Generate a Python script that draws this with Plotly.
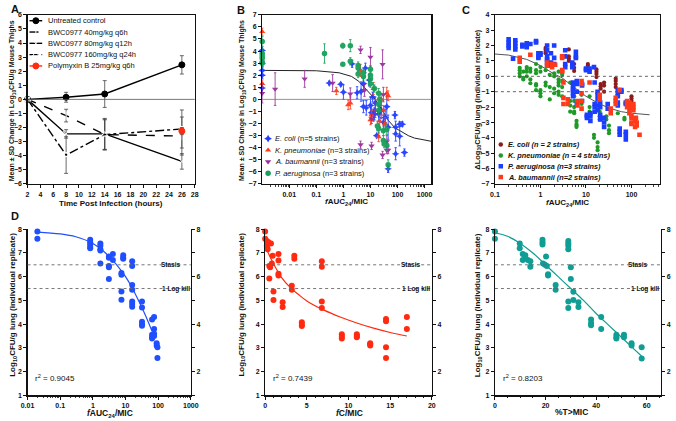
import plotly.graph_objects as go

W, H = 676, 421
FONT = "Liberation Sans, Arial, sans-serif"

# ---------------- Panel A data ----------------
A_time = [2, 8, 14, 26]
A_ctrl = [0, 0.15, 0.38, 2.45]
A_ctrl_sd = [0, 0.35, 0.95, 0.65]
A_40 = [0, -1.15, -2.5, -2.6]
A_40_sd = [0, 0.45, 1.1, 1.35]
A_80 = [0, -2.45, -2.45, -4.4]
A_80_sd = [0, 0.3, 1.1, 0.55]
A_160 = [0, -3.95, -2.5, -2.1]
A_160_sd = [0, 1.3, 1.05, 1.35]
A_pmb_t = [26]
A_pmb = [-2.25]
A_pmb_sd = [0.25]
A_labels = ["Untreated control", "BWC0977 40mg/kg q6h", "BWC0977 80mg/kg q12h",
            "BWC0977 160mg/kg q24h", "Polymyxin B 25mg/kg q6h"]

# ---------------- Panel B data ----------------
B_ecoli_x = [0.001, 0.001, 0.001, 0.001, 0.001, 0.3, 0.8, 1.0, 2.1, 3.2, 4.5, 5.5, 6.5, 5.5, 7.0,
             9.0, 10, 11, 12, 13, 14, 15, 17, 20, 22, 25, 30, 35, 40, 45, 45, 80, 85, 85, 85,
             120, 150, 120, 180]
B_ecoli_y = [4.05, 3.0, 2.4, 2.0, 0.95, 1.35, 1.25, 0.6, 2.95, 0.55, 0.65, 1.3, 2.6, -0.6, -0.7,
             1.6, -0.5, -1.1, 0.2, -1.3, -1.2, -0.3, -3.0, -1.2, -1.0, -0.9, -1.9, -1.5, -0.6, -2.3,
             -5.75, -1.3, -2.3, -2.85, -4.5, -2.05, -2.05, -3.05, -4.4]
B_ecoli_sd = [0.3, 0.3, 0.3, 0.3, 0.4, 0.15, 0.15, 0.6, 0.3, 0.5, 0.8, 0.5, 0.4, 0.5, 0.6,
              0.5, 0.7, 0.6, 0.4, 0.5, 0.5, 0.5, 0.1, 0.6, 0.5, 0.7, 0.6, 0.7, 0.9, 1.0,
              0.3, 0.3, 0.5, 0.6, 0.5, 0.2, 0.2, 0.8, 0.3]
B_kpn_x = [0.001, 0.001, 0.55, 1.5, 1.8, 4.3, 10, 11, 13, 20, 22, 25, 30, 35, 40, 45]
B_kpn_y = [5.6, 1.3, 0.7, -0.45, -0.3, 2.4, -1.7, -1.3, 0.9, -3.1, -1.8, 0.0, -0.9, -2.0, 0.5, 0.3]
B_kpn_sd = [0.3, 0.3, 0.3, 0.4, 0.5, 0.5, 0.4, 0.4, 0.5, 0.4, 0.5, 0.5, 0.4, 0.5, 0.5, 0.4]
B_aba_x = [0.001, 0.003, 0.037, 0.4, 1.8, 4.3, 4.3, 6, 10, 11, 11, 15, 28, 28, 30, 40, 40, 45]
B_aba_y = [0.5, 0.85, 1.7, 1.35, 0.45, 4.1, -3.75, 0.75, 3.5, -3.85, -1.6, -0.9, 2.9, -4.6, 0.4,
           -3.5, -4.2, -4.2]
B_aba_sd = [0.8, 1.35, 0.7, 0.7, 0.5, 0.3, 0.3, 0.5, 0.8, 0.3, 0.4, 0.6, 1.2, 0.3, 0.6, 0.5, 0.3, 0.3]
B_pae_x = [0.001, 0.001, 0.001, 0.001, 0.001, 0.001, 0.2, 0.95, 0.95, 1.8, 1.8, 3.5, 3.5, 3.5,
           5.5, 5.5, 10, 10, 10, 10, 14, 18, 20, 20, 20, 22, 20, 30, 30, 32, 40, 40, 45]
B_pae_y = [4.8, 3.8, 3.6, 3.4, 3.1, 3.0, 3.8, 4.45, 2.9, 4.45, 3.15, 2.8, 2.6, 2.1,
           2.2, 1.9, 2.5, 2.0, 1.7, 1.3, 0.9, -2.2, -2.4, 0.5, -0.9, 0.0, -0.4, -2.6, -3.4, -3.7,
           -3.8, -2.5, -5.4]
B_pae_sd = [0.4, 0.4, 0.4, 0.4, 0.4, 0.4, 0.8, 0.2, 0.1, 0.5, 0.3, 0.3, 0.3, 0.3,
            0.3, 0.3, 0.3, 0.3, 0.3, 0.3, 0.3, 0.4, 0.4, 0.4, 0.4, 0.3, 0.5, 0.4, 0.4, 0.3,
            0.4, 0.4, 0.4]
B_fit_x = [0.001, 0.01, 0.1, 0.7, 2, 3.7, 6, 10, 15, 25, 46, 80, 120, 250, 420, 1000, 1780]
B_fit_y = [2.4, 2.4, 2.37, 2.2, 1.9, 1.5, 1.0, 0.45, 0.0, -0.75, -1.75, -2.35, -2.6, -3.0, -3.2,
           -3.4, -3.47]
B_labels = ["<i>E. coli</i> (n=5 strains)", "<i>K. pneumoniae</i> (n=3 strains)",
            "<i>A. baumannii</i> (n=3 strains)", "<i>P. aeruginosa</i> (n=3 strains)"]

# ---------------- Panel C data (x, replicate values) ----------------
C_ecoli = [(1.3, [1.85, 1.75, 1.6, 1.5]), (4.2, [1.75, 1.3, 1.15, 1.0]), (5.5, [0.8, 0.55, 0.35]),
           (11, [0.8, 0.7, 0.45]), (17, [0.45, 0.3, 0.15, -0.05]), (21, [-0.5, -0.65, -0.8]),
           (25, [-0.4, -0.6, -1.0]), (45, [-0.15, -0.3, -0.5, -0.7]), (100, [-1.3, -1.45, -1.6])]
C_kpn = [(0.35, [0.55, 0.4, 0.2, 0.0]), (0.42, [0.3, -0.1, -0.2]), (0.5, [0.6, 0.5, 0.3, 0.0]),
         (0.6, [0.5, 0.3, -0.2, -0.45]), (0.8, [0.8, 0.4, 0.2, -0.5, -0.6, -0.9]),
         (1.0, [0.6, 0.3, -0.9, -1.1, -1.3]), (1.3, [0.4, -0.4, -0.6]), (1.6, [0.1, -0.7, -1.5]),
         (2.0, [0.2, 0.0, -0.8, -1.1]), (2.5, [0.3, -0.2, -0.4, -0.6, -1.0, -1.2]),
         (3.0, [0.1, -0.3, -0.7, -1.3]), (4.5, [-0.4, -1.6, -1.9, -2.3]),
         (5.5, [-1.3, -1.6, -2.0, -2.3, -2.4]), (6.2, [-2.9, -3.1, -3.2, -3.3]),
         (8, [-1.2, -1.6, -1.8]), (12, [-1.3, -2.0, -2.3, -2.6]), (15, [-3.8, -4.0]),
         (18, [-4.3, -4.6, -4.8]), (20, [-1.3, -1.5, -2.3, -2.6, -2.8]), (28, [-2.6, -2.8]),
         (32, [-3.2, -3.5, -3.7]), (50, [-2.4]), (70, [-2.7, -2.8])]
C_pae = [(0.2, [2.4, 2.2, 2.0, 1.85]), (0.28, [2.35, 2.15, 1.95, 1.75]), (0.25, [1.15]),
         (0.4, [2.05, 1.95]), (0.5, [2.15, 2.0, 1.9]), (0.6, [2.1]), (0.8, [2.3, 2.2]),
         (0.9, [1.5, 1.3, 1.2]), (1.0, [1.5, 1.4]), (1.4, [2.0, 1.7, 1.3, 1.1, 1.0, 0.7]),
         (1.7, [1.5, 0.9, 0.7]), (2.0, [2.0, 1.2, 0.8]), (3.5, [1.7, 1.3, 0.8, 0.6]),
         (5, [0.9, 0.7, 0.6]), (6, [1.6, 1.3, 1.2]), (10, [0.5, 0.4]), (12, [0.5, 0.3]), (15, [0.6]),
         (5.2, [-0.4, -0.6, -0.8, -0.9, -1.1, -1.3]), (6.3, [-0.5, -0.3, -1.0, -1.8]),
         (8.2, [-0.6, -0.5, -1.6]), (10.5, [-2.5, -2.6, -2.7]), (12.5, [-2.4, -2.6, -2.9]),
         (15.5, [-1.8, -2.0, -2.3, -0.4]), (18, [-1.0, -1.2, -1.5, -1.9, -2.2]),
         (20.5, [-1.7, -2.0, -2.5, -2.8]), (25, [-2.7, -3.0, -3.3]), (30, [-1.8, -2.1]),
         (50, [-0.9, -1.1, -1.3, -1.7, -1.9]), (55, [-3.4, -3.6, -3.8]), (60, [-0.9, -1.0]),
         (75, [-1.7, -1.8, -3.6, -3.8, -4.1])]
C_aba = [(0.35, [1.2, 0.95]), (0.6, [1.4]), (1.4, [0.9, 0.7]), (1.8, [0.8, 0.6]), (2.1, [0.75]),
         (3.0, [1.3, 1.2, 0.4, 0.3]), (3.2, [-0.4, -1.4, -1.8]), (4, [-1.5, -1.8]),
         (6.5, [-1.6, -1.9]), (8, [-0.3, -0.5, -1.1, -1.6, -2.1]), (12, [-0.4]), (20, [-1.2, -1.5]),
         (35, [-2.1, -2.4]), (45, [-1.4, -1.6, -1.8]), (55, [-0.9]), (80, [-1.6, -1.8, -2.0]),
         (90, [-1.7, -1.9, -2.1, -2.4]), (100, [-2.6, -2.7, -3.0, -3.1]), (110, [-1.8, -2.0, -2.2]),
         (120, [-2.9, -3.3]), (125, [-2.7]), (130, [-3.2, -3.0]), (150, [-3.8])]
C_fit_x = [0.1, 0.2, 0.5, 1, 2, 3, 4, 6, 10, 20, 35, 60, 100, 250]
C_fit_y = [1.45, 1.38, 1.1, 0.7, 0.15, -0.1, -0.4, -0.8, -1.3, -1.8, -2.1, -2.3, -2.4, -2.5]
C_labels = ["<i>E. coli (n = 2 strains)</i>", "<i>K. pneumoniae (n = 4 strains)</i>",
            "<i>P. aeruginosa (n=3 strains)</i>", "<i>A. baumannii (n=2 strains)</i>"]

# ---------------- Panels D, E, F data ----------------
D_x = [0.02, 0.02, 0.83, 0.83, 0.83, 0.83, 0.83, 1.7, 1.7, 1.7, 1.7, 1.7, 3.1, 3.1, 3.1, 3.1, 3.1,
       4.1, 4.1, 7.5, 7.5, 7.5, 7.5, 8.5, 8.5, 8.5, 16, 16, 16, 16, 16, 16, 16,
       32, 32, 32, 32, 32, 65, 65, 65, 65, 75, 75, 75, 75, 90, 90, 95, 95]
D_y = [7.9, 7.6, 7.55, 7.45, 7.35, 7.25, 7.2, 7.4, 7.3, 7.15, 7.1, 6.55, 6.85, 6.8, 6.45, 6.4, 5.9,
       6.95, 6.7, 6.15, 6.08, 5.38, 5.03, 6.9, 6.8, 6.75, 6.65, 6.45, 5.65, 5.45, 4.95, 4.85, 4.73,
       4.95, 4.7, 4.1, 4.0, 3.93, 4.2, 3.55, 3.45, 3.4, 4.3, 3.8, 3.6, 3.5, 3.2, 3.1, 3.03, 2.57]
D_fit_x = [0.02, 0.1, 0.3, 1, 2, 4, 7, 10, 15, 25, 40, 65]
D_fit_y = [7.88, 7.8, 7.68, 7.4, 7.1, 6.7, 6.3, 6.0, 5.6, 5.0, 4.4, 3.7]

E_x = [0.0, 0.0, 0.2, 0.2, 0.25, 0.3, 0.4, 0.7, 0.8, 0.5, 0.6, 0.9, 0.5, 1.0, 1.0, 1.6, 1.6, 1.6, 1.6,
       2.1, 2.1, 3.2, 3.2, 3.5, 3.5, 4.4, 4.4, 4.4, 6.8, 6.8, 6.8, 6.8, 9.2, 9.2, 9.2,
       11.0, 11.0, 11.0, 12.6, 12.6, 12.6, 14.5, 14.5, 14.5, 14.5, 17.0, 17.0]
E_y = [7.9, 7.6, 7.5, 7.3, 7.2, 7.15, 7.45, 7.4, 6.55, 6.45, 6.4, 6.88, 5.92, 5.38, 5.02, 6.95, 6.68,
       6.12, 6.05, 4.92, 4.72, 5.62, 5.45, 6.88, 6.75, 4.08, 3.98, 3.92, 6.65, 6.42, 4.95, 4.68,
       3.58, 3.47, 3.4, 3.58, 3.5, 3.45, 3.2, 3.15, 3.1, 4.22, 4.12, 3.03, 2.57, 4.3, 3.8]
E_fit_x = [0, 0.5, 1, 2, 3, 4, 5, 7, 9, 11, 13, 15, 17]
E_fit_y = [7.3, 6.9, 6.55, 5.95, 5.55, 5.25, 4.98, 4.6, 4.3, 4.05, 3.83, 3.65, 3.5]

F_x = [0, 0, 9.8, 9.8, 11, 12, 12, 11, 13, 14, 14, 18.8, 18.8, 18.8, 19, 19.8, 20.2, 20.5, 21, 21,
       24, 24, 29, 29, 29, 29, 29, 29, 30, 30, 31, 31, 33, 33, 38, 38, 38, 42, 42,
       48, 48, 48, 51, 51, 54, 54, 58, 58]
F_y = [7.9, 7.6, 7.4, 7.2, 6.95, 6.9, 6.8, 6.7, 6.7, 6.65, 6.42, 7.55, 7.45, 7.35, 6.55, 6.5, 6.85,
       6.45, 6.1, 6.05, 5.65, 5.45, 7.5, 7.4, 7.3, 7.15, 4.95, 4.68, 6.4, 5.9, 5.36, 5.02, 4.92, 4.72,
       4.2, 4.05, 3.95, 4.3, 3.8, 3.55, 3.45, 3.4, 3.55, 3.45, 3.2, 3.1, 3.03, 2.55]
F_fit_x = [0, 5, 10, 15, 20, 25, 30, 35, 40, 45, 50, 55, 58]
F_fit_y = [7.85, 7.7, 7.4, 7.0, 6.5, 6.0, 5.5, 5.0, 4.45, 3.95, 3.45, 2.95, 2.65]

STASIS, ONE_LOG_KILL = 6.5, 5.5
R2 = ["0.9045", "0.7439", "0.8203"]

# ---------------- colours ----------------
BLK = "#000000"
B_COL = ["#1f3cff", "#ff3a1a", "#9b2d9b", "#17a05a"]
B_SYM = ["star-diamond", "triangle-up", "triangle-down", "circle"]
C_COL = ["#8b1c1c", "#1e9a26", "#1a3dff", "#ff3a1a"]
C_SYM = ["circle", "circle", "square", "square"]
D_COL, E_COL, F_COL = "#1f4fff", "#ff2a10", "#0f9d94"

# ---------------- layout geometry (pixels) ----------------
BOX = {
    "A": (21, 192, 11, 183), "B": (261, 434, 11, 183), "C": (499, 668, 11, 183),
    "D": (21, 188, 229, 398), "E": (264, 434.5, 229, 398), "F": (499, 669, 229, 398),
}


def dom(b):
    x0, x1, y0, y1 = b
    return [x0 / W, x1 / W], [1 - y1 / H, 1 - y0 / H]


def flat(groups):
    xs, ys = [], []
    for x, vals in groups:
        for v in vals:
            xs.append(x)
            ys.append(v)
    return xs, ys


fig = go.Figure()

# ---------- Panel A traces ----------
A_series = [
    (A_ctrl, A_ctrl_sd, "solid", "circle", 6, BLK, A_time),
    (A_40, A_40_sd, "dash", "line-ns-open", 6, BLK, A_time),
    (A_80, A_80_sd, "solid", "x-thin-open", 6, BLK, A_time),
    (A_160, A_160_sd, "dashdot", "triangle-up-open", 6, BLK, A_time),
    (A_pmb, A_pmb_sd, "solid", "circle", 6, "#ff2a10", A_pmb_t),
]
for ys, sd, dash, sym, sz, col, ts in A_series:
    fig.add_trace(go.Scatter(
        x=ts, y=ys, mode="lines+markers", xaxis="x", yaxis="y", cliponaxis=False,
        line=dict(color=col, width=1.4, dash=dash),
        marker=dict(symbol=sym, size=sz, color=col if "open" not in sym else "white",
                    line=dict(color=col, width=1)),
        error_y=dict(type="data", array=sd, color="#444", thickness=0.8, width=2),
        showlegend=False))

# ---------- Panel B traces ----------
B_sets = [(B_ecoli_x, B_ecoli_y, B_ecoli_sd), (B_kpn_x, B_kpn_y, B_kpn_sd),
          (B_aba_x, B_aba_y, B_aba_sd), (B_pae_x, B_pae_y, B_pae_sd)]
fig.add_trace(go.Scatter(x=B_fit_x, y=B_fit_y, mode="lines", xaxis="x2", yaxis="y2",
                         line=dict(color="#222", width=1), showlegend=False))
for (xs, ys, sd), col, sym in zip(B_sets, B_COL, B_SYM):
    fig.add_trace(go.Scatter(
        x=xs, y=ys, mode="markers", xaxis="x2", yaxis="y2", cliponaxis=False,
        marker=dict(symbol=sym, size=5.5, color=col, line=dict(width=0)),
        error_y=dict(type="data", array=sd, color=col, thickness=0.9, width=1.2),
        opacity=0.95, showlegend=False))

# ---------- Panel C traces ----------
fig.add_trace(go.Scatter(x=C_fit_x, y=C_fit_y, mode="lines", xaxis="x3", yaxis="y3",
                         line=dict(color="#555", width=1), showlegend=False))
for groups, col, sym in zip([C_ecoli, C_kpn, C_pae, C_aba], C_COL, C_SYM):
    xs, ys = flat(groups)
    fig.add_trace(go.Scatter(
        x=xs, y=ys, mode="markers", xaxis="x3", yaxis="y3",
        marker=dict(symbol=sym, size=4.2 if sym == "circle" else 4.6, color=col, line=dict(width=0)),
        showlegend=False))

# ---------- Panels D, E, F traces ----------
for xs, ys, fx, fy, col, xa, ya in [
        (D_x, D_y, D_fit_x, D_fit_y, D_COL, "x4", "y4"),
        (E_x, E_y, E_fit_x, E_fit_y, E_COL, "x5", "y5"),
        (F_x, F_y, F_fit_x, F_fit_y, F_COL, "x6", "y6")]:
    fig.add_trace(go.Scatter(x=fx, y=fy, mode="lines", xaxis=xa, yaxis=ya,
                             line=dict(color=col, width=1.2, shape="spline"), showlegend=False))
    fig.add_trace(go.Scatter(x=xs, y=ys, mode="markers", xaxis=xa, yaxis=ya, cliponaxis=False,
                             marker=dict(size=6, color=col, line=dict(width=0)), showlegend=False))

# dummy traces for right axes
for xa, ya in [("x4", "y8"), ("x5", "y9"), ("x6", "y10")]:
    fig.add_trace(go.Scatter(x=[None], y=[None], xaxis=xa, yaxis=ya, showlegend=False))

# ---------- hand-made legends on a pixel-space key axis ----------
# Panel A legend
A_leg_x0, A_leg_y0, A_leg_dy = 23, 17, 11.5
for i, (ys, sd, dash, sym, sz, col, ts) in enumerate(A_series):
    yy = A_leg_y0 + i * A_leg_dy
    fig.add_trace(go.Scatter(x=[A_leg_x0, A_leg_x0 + 13], y=[yy, yy], mode="lines", xaxis="x7",
                             yaxis="y7", line=dict(color=col, width=1.4, dash=dash),
                             showlegend=False, hoverinfo="skip"))
    fig.add_trace(go.Scatter(x=[A_leg_x0 + 6.5], y=[yy], mode="markers", xaxis="x7", yaxis="y7",
                             marker=dict(symbol=sym, size=sz, color=col if "open" not in sym else "white",
                                         line=dict(color=col, width=1)),
                             showlegend=False, hoverinfo="skip"))
    fig.add_annotation(x=(A_leg_x0 + 17) / W, y=1 - yy / H, xref="paper", yref="paper",
                       text=A_labels[i], showarrow=False, xanchor="left", yanchor="middle",
                       font=dict(family=FONT, size=7.5, color="#111"))

# Panel B legend
B_leg_x0, B_leg_y0, B_leg_dy = 267, 137, 11.7
for i in range(4):
    yy = B_leg_y0 + i * B_leg_dy
    fig.add_trace(go.Scatter(x=[B_leg_x0], y=[yy], mode="markers", xaxis="x7", yaxis="y7",
                             marker=dict(symbol=B_SYM[i], size=5.5, color=B_COL[i]),
                             showlegend=False, hoverinfo="skip"))
    fig.add_annotation(x=(B_leg_x0 + 5) / W, y=1 - yy / H, xref="paper", yref="paper",
                       text=B_labels[i], showarrow=False, xanchor="left", yanchor="middle",
                       font=dict(family=FONT, size=7.5, color="#111"))

# Panel C legend
C_leg_x0, C_leg_y0, C_leg_dy = 505, 143, 11
for i in range(4):
    yy = C_leg_y0 + i * C_leg_dy
    fig.add_trace(go.Scatter(x=[C_leg_x0], y=[yy], mode="markers", xaxis="x7", yaxis="y7",
                             marker=dict(symbol=C_SYM[i], size=4.5, color=C_COL[i]),
                             showlegend=False, hoverinfo="skip"))
    fig.add_annotation(x=(C_leg_x0 + 5) / W, y=1 - yy / H, xref="paper", yref="paper",
                       text="<b>" + C_labels[i] + "</b>", showarrow=False, xanchor="left",
                       yanchor="middle", font=dict(family=FONT, size=7.3, color="#111"))

# ---------------- axes ----------------
TF = dict(family=FONT, size=7, color="#111", weight="bold")
base = dict(showgrid=False, zeroline=False, showline=True, linecolor="#111", linewidth=1.2,
            ticks="outside", ticklen=3, tickwidth=1, tickcolor="#111", tickfont=TF)


def logticks(lo, hi):
    vals = []
    for e in range(lo, hi):
        for m in range(2, 10):
            vals.append(m * 10 ** e)
    return vals


def logtext(v):
    return ("%g" % v)


lay = {}
# A
xd, yd = dom(BOX["A"])
lay["xaxis"] = dict(base, domain=xd, range=[2, 28], tickvals=list(range(2, 29, 2)), anchor="y",
                    mirror=True)
lay["yaxis"] = dict(base, domain=yd, range=[-6, 6], tickvals=list(range(-6, 7)), anchor="x",
                    mirror=True)
# B
xd, yd = dom(BOX["B"])
bt = [0.01, 0.1, 1, 10, 100, 1000]
lay["xaxis2"] = dict(base, domain=xd, type="log", range=[-3, 3.25], tickvals=bt,
                     ticktext=[logtext(v) for v in bt], anchor="y2", mirror=True,
                     minor=dict(tickvals=logticks(-3, 4), ticks="outside", ticklen=1.8,
                                tickcolor="#111", tickwidth=0.8))
lay["yaxis2"] = dict(base, domain=yd, range=[-7, 7], tickvals=list(range(-7, 8)), anchor="x2",
                     mirror=True)
# C
xd, yd = dom(BOX["C"])
ct = [0.1, 1, 10, 100]
lay["xaxis3"] = dict(base, domain=xd, type="log", range=[-1, 2.63], tickvals=ct,
                     ticktext=[logtext(v) for v in ct], anchor="y3", mirror=True,
                     minor=dict(tickvals=logticks(-1, 3), ticks="outside", ticklen=1.8,
                                tickcolor="#111", tickwidth=0.8))
lay["yaxis3"] = dict(base, domain=yd, range=[-7, 4], tickvals=list(range(-7, 5)), anchor="x3",
                     mirror=True)
# D, E, F
for key, xa, ya, yr in [("D", "xaxis4", "yaxis4", "yaxis8"), ("E", "xaxis5", "yaxis5", "yaxis9"),
                        ("F", "xaxis6", "yaxis6", "yaxis10")]:
    xd, yd = dom(BOX[key])
    n = xa.replace("xaxis", "")
    lay[ya] = dict(base, domain=yd, range=[1, 8], tickvals=list(range(1, 9)), anchor="x" + n)
    lay[yr] = dict(base, domain=yd, range=[1, 8], tickvals=[2, 4, 6, 8], anchor="x" + n,
                   overlaying="y" + n, side="right",
                   minor=dict(tickvals=[1, 3, 5, 7], ticks="outside", ticklen=3, tickcolor="#111"))
dt = [0.01, 0.1, 1, 10, 100, 1000]
xd, _ = dom(BOX["D"])
lay["xaxis4"] = dict(base, domain=xd, type="log", range=[-2, 3], tickvals=dt,
                     ticktext=[logtext(v) for v in dt], anchor="y4",
                     minor=dict(tickvals=logticks(-2, 3), ticks="outside", ticklen=1.8,
                                tickcolor="#111", tickwidth=0.8))
xd, _ = dom(BOX["E"])
lay["xaxis5"] = dict(base, domain=xd, range=[0, 20], tickvals=[0, 5, 10, 15, 20], anchor="y5",
                     minor=dict(dtick=1, ticks="outside", ticklen=1.8, tickcolor="#111"))
xd, _ = dom(BOX["F"])
lay["xaxis6"] = dict(base, domain=xd, range=[0, 65.7], tickvals=[0, 20, 40, 60], anchor="y6",
                     minor=dict(dtick=5, ticks="outside", ticklen=1.8, tickcolor="#111"))
# key axis (pixel space, invisible)
lay["xaxis7"] = dict(domain=[0, 1], range=[0, W], visible=False, anchor="y7", fixedrange=True)
lay["yaxis7"] = dict(domain=[0, 1], range=[H, 0], visible=False, anchor="x7", fixedrange=True)

# ---------------- reference lines ----------------
shapes = [
    dict(type="line", xref="x domain", yref="y", x0=0, x1=1, y0=0, y1=0,
         line=dict(color="#555", width=0.8)),
    dict(type="line", xref="x2 domain", yref="y2", x0=0, x1=1, y0=0, y1=0,
         line=dict(color="#777", width=0.8)),
    dict(type="line", xref="x3 domain", yref="y3", x0=0, x1=1, y0=0, y1=0,
         line=dict(color="#555", width=0.9, dash="dot")),
    dict(type="line", xref="x3 domain", yref="y3", x0=0, x1=1, y0=-1, y1=-1,
         line=dict(color="#555", width=0.9, dash="dot")),
]
for n in ["4", "5", "6"]:
    for yv in [STASIS, ONE_LOG_KILL]:
        shapes.append(dict(type="line", xref="x%s domain" % n, yref="y" + n, x0=0, x1=1, y0=yv, y1=yv,
                           line=dict(color="#666", width=0.9, dash="dot")))

# ---------------- annotations ----------------
ann = []


def txt(x, y, s, size=7.5, angle=0, xanchor="center", yanchor="middle", bold=True):
    ann.append(dict(x=x / W, y=1 - y / H, xref="paper", yref="paper", text=s, showarrow=False,
                    textangle=angle, xanchor=xanchor, yanchor=yanchor,
                    font=dict(family=FONT, size=size, color="#111", weight="bold" if bold else "normal")))


# panel letters
txt(2, 5, "A", 11, xanchor="left")
txt(233, 6, "B", 11, xanchor="left")
txt(463, 6, "C", 11, xanchor="left")
txt(2, 216, "D", 11, xanchor="left")

thigh = "Mean ± SD Change in Log<sub>10</sub>CFU/g Mouse Thighs"
fauc = "<i>f</i>AUC<sub>24</sub>/MIC"
lung = "Log<sub>10</sub>CFU/g lung (individual replicate)"
txt(6, 98, thigh, 7, -90)
txt(106, 203, "Time Post Infection (hours)", 8)
txt(241, 98, thigh, 7, -90)
txt(347, 201, fauc, 8)
txt(482, 97, "ΔLog<sub>10</sub>CFU/g lung (individual replicate)", 7.5, -90)
txt(573, 202, fauc, 8)
txt(6, 306, lung, 8, -90)
txt(105, 416, fauc, 8.5)
txt(240, 306, lung, 8, -90)
txt(350, 416, "<i>f</i>C/MIC", 8.5)
txt(482, 306, lung, 8, -90)
txt(577, 415, "%T>MIC", 8.5)

# stasis / log kill labels
for n, s_frac, k_frac in [("4", 0.955, 1.01), ("5", 0.948, 1.0), ("6", 0.935, 0.997)]:
    ann.append(dict(xref="x%s domain" % n, yref="y" + n, x=s_frac, y=STASIS, text="Stasis",
                    showarrow=False, xanchor="right", yanchor="middle",
                    font=dict(family=FONT, size=6.5, color="#111", weight="bold")))
    ann.append(dict(xref="x%s domain" % n, yref="y" + n, x=k_frac, y=ONE_LOG_KILL, text="1 Log kill",
                    showarrow=False, xanchor="right", yanchor="middle",
                    font=dict(family=FONT, size=6.5, color="#111", weight="bold")))
# r-squared
for n, r in zip(["4", "5", "6"], R2):
    ann.append(dict(xref="x%s domain" % n, yref="y" + n, x=0.035, y=1.75, text="r<sup>2</sup> = " + r,
                    showarrow=False, xanchor="left", yanchor="middle",
                    font=dict(family=FONT, size=8, color="#111")))

fig.update_layout(
    width=W, height=H, margin=dict(l=0, r=0, t=0, b=0, pad=0),
    paper_bgcolor="white", plot_bgcolor="rgba(0,0,0,0)", showlegend=False,
    font=dict(family=FONT, size=7, color="#111"),
    shapes=shapes, annotations=list(fig.layout.annotations) + ann, **lay)

fig.write_html("out.html", config={"displayModeBar": False, "staticPlot": True},
               post_script="document.body.style.margin='0';")
